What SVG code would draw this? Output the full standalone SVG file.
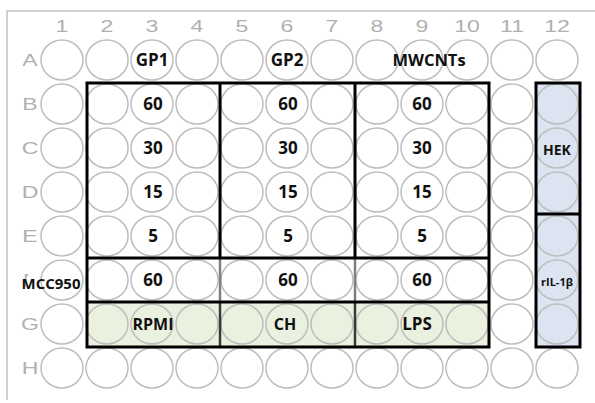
<svg xmlns="http://www.w3.org/2000/svg" xmlns:xlink="http://www.w3.org/1999/xlink" width="595" height="403" viewBox="0 0 595 403">
<defs>
<style>
.frame{stroke:#c0c0c0;stroke-width:1.5;fill:none}
.well{fill:none;stroke:#bdbdbd;stroke-width:1.5}
.ax{font-family:"Liberation Sans",Arial,sans-serif;font-size:16.5px;fill:#b0b0b0;text-anchor:middle}
.lb{font-family:"Open Sans","Noto Sans",sans-serif;font-weight:bold;font-size:17px;fill:#111;text-anchor:middle}
.box{stroke:#000;stroke-width:3;fill:none}
.grey{stroke:#808080;stroke-width:2.5}
.dark{stroke:#3a3a3a;stroke-width:2.5}
</style>
<ellipse id="w" cx="0" cy="0" rx="21" ry="20" class="well"/>
<clipPath id="fclip"><rect x="0" y="270" width="28" height="7"/><rect x="0" y="270" width="26.5" height="30"/></clipPath>
</defs>
<rect width="595" height="403" fill="#fff"/>
<path class="frame" d="M7,400 V11 H595"/>

<g id="fills">
<rect x="87" y="302" width="402" height="45" fill="#ebf1df"/>
<rect x="536" y="83" width="44" height="264" fill="#dce3f1"/>
</g>

<g id="column-numbers">
<text class="ax" transform="translate(62,32) scale(1.4,1)">1</text>
<text class="ax" transform="translate(107,32) scale(1.4,1)">2</text>
<text class="ax" transform="translate(152,32) scale(1.4,1)">3</text>
<text class="ax" transform="translate(197,32) scale(1.4,1)">4</text>
<text class="ax" transform="translate(242,32) scale(1.4,1)">5</text>
<text class="ax" transform="translate(287,32) scale(1.4,1)">6</text>
<text class="ax" transform="translate(332,32) scale(1.4,1)">7</text>
<text class="ax" transform="translate(377,32) scale(1.4,1)">8</text>
<text class="ax" transform="translate(422,32) scale(1.4,1)">9</text>
<text class="ax" transform="translate(467,32) scale(1.4,1)">10</text>
<text class="ax" transform="translate(512,32) scale(1.4,1)">11</text>
<text class="ax" transform="translate(557,32) scale(1.4,1)">12</text>
</g>

<g id="row-letters">
<text class="ax" transform="translate(30,66) scale(1.4,1)">A</text>
<text class="ax" transform="translate(30,110) scale(1.4,1)">B</text>
<text class="ax" transform="translate(30,154) scale(1.4,1)">C</text>
<text class="ax" transform="translate(30,198) scale(1.4,1)">D</text>
<text class="ax" transform="translate(30,242) scale(1.4,1)">E</text>
<g clip-path="url(#fclip)"><text class="ax" transform="translate(30,286) scale(1.4,1)">F</text></g>
<text class="ax" transform="translate(30,330) scale(1.4,1)">G</text>
<text class="ax" transform="translate(30,374) scale(1.4,1)">H</text>
</g>

<g id="wells">
<g id="row-A"><use xlink:href="#w" x="62" y="60"/><use xlink:href="#w" x="107" y="60"/><use xlink:href="#w" x="152" y="60"/><use xlink:href="#w" x="197" y="60"/><use xlink:href="#w" x="242" y="60"/><use xlink:href="#w" x="287" y="60"/><use xlink:href="#w" x="332" y="60"/><use xlink:href="#w" x="377" y="60"/><use xlink:href="#w" x="422" y="60"/><use xlink:href="#w" x="467" y="60"/><use xlink:href="#w" x="512" y="60"/><use xlink:href="#w" x="557" y="60"/></g>
<g id="row-B"><use xlink:href="#w" x="62" y="104"/><use xlink:href="#w" x="107" y="104"/><use xlink:href="#w" x="152" y="104"/><use xlink:href="#w" x="197" y="104"/><use xlink:href="#w" x="242" y="104"/><use xlink:href="#w" x="287" y="104"/><use xlink:href="#w" x="332" y="104"/><use xlink:href="#w" x="377" y="104"/><use xlink:href="#w" x="422" y="104"/><use xlink:href="#w" x="467" y="104"/><use xlink:href="#w" x="512" y="104"/><use xlink:href="#w" x="557" y="104"/></g>
<g id="row-C"><use xlink:href="#w" x="62" y="148"/><use xlink:href="#w" x="107" y="148"/><use xlink:href="#w" x="152" y="148"/><use xlink:href="#w" x="197" y="148"/><use xlink:href="#w" x="242" y="148"/><use xlink:href="#w" x="287" y="148"/><use xlink:href="#w" x="332" y="148"/><use xlink:href="#w" x="377" y="148"/><use xlink:href="#w" x="422" y="148"/><use xlink:href="#w" x="467" y="148"/><use xlink:href="#w" x="512" y="148"/><use xlink:href="#w" x="557" y="148"/></g>
<g id="row-D"><use xlink:href="#w" x="62" y="192"/><use xlink:href="#w" x="107" y="192"/><use xlink:href="#w" x="152" y="192"/><use xlink:href="#w" x="197" y="192"/><use xlink:href="#w" x="242" y="192"/><use xlink:href="#w" x="287" y="192"/><use xlink:href="#w" x="332" y="192"/><use xlink:href="#w" x="377" y="192"/><use xlink:href="#w" x="422" y="192"/><use xlink:href="#w" x="467" y="192"/><use xlink:href="#w" x="512" y="192"/><use xlink:href="#w" x="557" y="192"/></g>
<g id="row-E"><use xlink:href="#w" x="62" y="236"/><use xlink:href="#w" x="107" y="236"/><use xlink:href="#w" x="152" y="236"/><use xlink:href="#w" x="197" y="236"/><use xlink:href="#w" x="242" y="236"/><use xlink:href="#w" x="287" y="236"/><use xlink:href="#w" x="332" y="236"/><use xlink:href="#w" x="377" y="236"/><use xlink:href="#w" x="422" y="236"/><use xlink:href="#w" x="467" y="236"/><use xlink:href="#w" x="512" y="236"/><use xlink:href="#w" x="557" y="236"/></g>
<g id="row-F"><use xlink:href="#w" x="62" y="280"/><use xlink:href="#w" x="107" y="280"/><use xlink:href="#w" x="152" y="280"/><use xlink:href="#w" x="197" y="280"/><use xlink:href="#w" x="242" y="280"/><use xlink:href="#w" x="287" y="280"/><use xlink:href="#w" x="332" y="280"/><use xlink:href="#w" x="377" y="280"/><use xlink:href="#w" x="422" y="280"/><use xlink:href="#w" x="467" y="280"/><use xlink:href="#w" x="512" y="280"/><use xlink:href="#w" x="557" y="280"/></g>
<g id="row-G"><use xlink:href="#w" x="62" y="324"/><use xlink:href="#w" x="107" y="324"/><use xlink:href="#w" x="152" y="324"/><use xlink:href="#w" x="197" y="324"/><use xlink:href="#w" x="242" y="324"/><use xlink:href="#w" x="287" y="324"/><use xlink:href="#w" x="332" y="324"/><use xlink:href="#w" x="377" y="324"/><use xlink:href="#w" x="422" y="324"/><use xlink:href="#w" x="467" y="324"/><use xlink:href="#w" x="512" y="324"/><use xlink:href="#w" x="557" y="324"/></g>
<g id="row-H"><use xlink:href="#w" x="62" y="368"/><use xlink:href="#w" x="107" y="368"/><use xlink:href="#w" x="152" y="368"/><use xlink:href="#w" x="197" y="368"/><use xlink:href="#w" x="242" y="368"/><use xlink:href="#w" x="287" y="368"/><use xlink:href="#w" x="332" y="368"/><use xlink:href="#w" x="377" y="368"/><use xlink:href="#w" x="422" y="368"/><use xlink:href="#w" x="467" y="368"/><use xlink:href="#w" x="512" y="368"/><use xlink:href="#w" x="557" y="368"/></g>
</g>

<g id="boxes">
<line class="grey" x1="220" y1="258" x2="220" y2="302"/>
<line class="grey" x1="355" y1="258" x2="355" y2="302"/>
<line class="dark" x1="220" y1="302" x2="220" y2="347"/>
<line class="dark" x1="355" y1="302" x2="355" y2="347"/>
<path class="box" d="M87,83 H489 V347 H87 Z M87,258 H489 M87,302 H489 M220,83 V258 M355,83 V258"/>
<path class="box" d="M536,83 H580 V347 H536 Z M536,214 H580"/>
</g>

<g id="labels">
<text class="lb" x="152" y="66">GP1</text>
<text class="lb" x="287" y="66">GP2</text>
<text class="lb" x="429" y="66" style="font-size:16.5px">MWCNTs</text>
<text class="lb" x="153" y="110">60</text>
<text class="lb" x="153" y="154">30</text>
<text class="lb" x="153" y="198">15</text>
<text class="lb" x="153" y="242">5</text>
<text class="lb" x="153" y="286">60</text>
<text class="lb" x="288" y="110">60</text>
<text class="lb" x="288" y="154">30</text>
<text class="lb" x="288" y="198">15</text>
<text class="lb" x="288" y="242">5</text>
<text class="lb" x="288" y="286">60</text>
<text class="lb" x="422" y="110">60</text>
<text class="lb" x="422" y="154">30</text>
<text class="lb" x="422" y="198">15</text>
<text class="lb" x="422" y="242">5</text>
<text class="lb" x="422" y="286">60</text>
<text class="lb" x="153" y="330" style="font-size:16px">RPMI</text>
<text class="lb" x="285" y="330" style="font-size:16px">CH</text>
<text class="lb" x="417" y="330">LPS</text>
<text class="lb" x="557" y="155" style="font-size:14px">HEK</text>
<text class="lb" x="557" y="286" style="font-size:11px">rIL-1β</text>
<text class="lb" x="51" y="288.5" style="font-size:15px">MCC950</text>
</g>
</svg>
